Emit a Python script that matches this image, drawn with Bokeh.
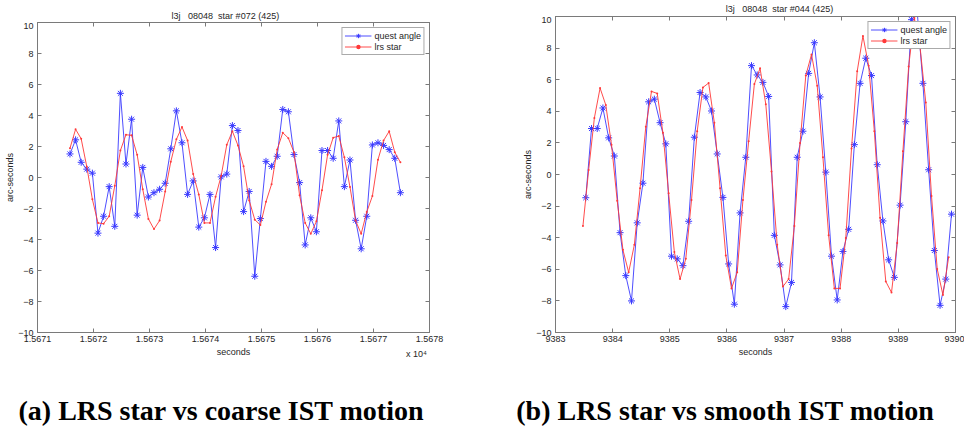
from bokeh.plotting import figure
from bokeh.layouts import row, column
from bokeh.models import LinearAxis, FixedTicker, Range1d
from bokeh.core.properties import value
from bokeh.embed import file_html
from bokeh.resources import INLINE

# ---------------- data: panel (a) ----------------
a_title = "l3j\u00a0\u00a0 08048\u00a0 star #072 (425)"
a_caption = "(a) LRS star vs coarse IST motion"
a_time = [15671.58, 15671.68, 15671.78, 15671.88, 15671.98, 15672.08, 15672.18, 15672.28, 15672.38, 15672.48,
          15672.58, 15672.68, 15672.78, 15672.88, 15672.98, 15673.08, 15673.18, 15673.28, 15673.38, 15673.48,
          15673.58, 15673.68, 15673.78, 15673.88, 15673.98, 15674.08, 15674.18, 15674.28, 15674.38, 15674.48,
          15674.58, 15674.68, 15674.78, 15674.88, 15674.98, 15675.08, 15675.18, 15675.28, 15675.38, 15675.48,
          15675.58, 15675.68, 15675.78, 15675.88, 15675.98, 15676.08, 15676.18, 15676.28, 15676.38, 15676.48,
          15676.58, 15676.68, 15676.78, 15676.88, 15676.98, 15677.08, 15677.18, 15677.28, 15677.38, 15677.48]
a_quest = [1.52, 2.43, 0.98, 0.54, 0.28, -3.59, -2.50, -0.59, -3.15, 5.43,
           0.87, 3.76, -2.43, 0.65, -1.26, -0.98, -0.76, -0.37, 1.85, 4.30,
           2.24, -1.09, -0.22, -3.20, -2.60, -1.09, -4.52, 0.04, 0.22, 3.35,
           3.03, -2.20, -0.90, -6.37, -2.65, 1.04, 0.72, 1.37, 4.39, 4.24,
           1.48, -0.33, -4.35, -2.60, -3.50, 1.74, 1.74, 1.24, 3.65, -0.59,
           1.13, -2.76, -4.60, -2.50, 2.10, 2.24, 2.07, 1.80, 1.24, -0.98]
a_lrs = [1.89, 3.11, 2.50, 0.70, -1.41, -2.93, -2.98, -2.50, -0.54, 1.74,
         2.76, 2.72, 1.46, -0.76, -2.67, -3.33, -2.78, -0.91, 1.02, 2.46,
         3.26, 2.39, 0.22, -1.09, -2.93, -2.93, -1.24, 0.11, 2.11, 2.98,
         2.07, 0.72, -1.48, -2.72, -3.07, -1.57, -0.43, 1.80, 2.89, 2.54,
         1.63, -1.15, -2.93, -3.63, -2.83, -0.83, 1.46, 2.57, 2.67, 1.30,
         -0.61, -2.78, -3.63, -2.22, -1.20, 1.15, 2.39, 2.98, 1.63, 0.98]
a_xticks = [15671, 15672, 15673, 15674, 15675, 15676, 15677, 15678]
a_xtick_labels = ["1.5671", "1.5672", "1.5673", "1.5674", "1.5675", "1.5676", "1.5677", "1.5678"]
a_multiplier = "x 10\u2074"

# ---------------- data: panel (b) ----------------
b_title = "l3j\u00a0\u00a0 08048\u00a0 star #044 (425)"
b_caption = "(b) LRS star vs smooth IST motion"
b_time_quest = [9383.53, 9383.63, 9383.73, 9383.83, 9383.93, 9384.03, 9384.13, 9384.23, 9384.33, 9384.43,
                9384.53, 9384.63, 9384.73, 9384.83, 9384.93, 9385.03, 9385.13, 9385.23, 9385.33, 9385.43,
                9385.53, 9385.63, 9385.73, 9385.83, 9385.93, 9386.03, 9386.13, 9386.23, 9386.33, 9386.43,
                9386.53, 9386.63, 9386.73, 9386.83, 9386.93, 9387.03, 9387.13, 9387.23, 9387.33, 9387.43,
                9387.53, 9387.63, 9387.73, 9387.83, 9387.93, 9388.03, 9388.13, 9388.23, 9388.33, 9388.43,
                9388.53, 9388.63, 9388.73, 9388.83, 9388.93, 9389.03, 9389.13, 9389.23, 9389.33, 9389.43,
                9389.53, 9389.63, 9389.73, 9389.83, 9389.93]
b_quest = [-1.47, 2.91, 2.91, 4.21, 2.32, 1.17, -3.68, -6.40, -8.00, -3.06,
           -0.55, 4.60, 4.77, 3.28, 1.94, -5.17, -5.34, -5.77, -2.96, 2.36,
           5.19, 4.91, 4.02, 1.30, -1.45, -5.66, -8.21, -2.43, 1.09, 6.89,
           6.30, 5.83, 4.94, -3.85, -5.72, -8.36, -6.83, 1.09, 2.74, 6.40,
           8.34, 4.91, 0.15, -5.17, -7.94, -4.87, -3.47, 1.89, 5.77, 7.36,
           6.26, 0.62, -2.94, -5.40, -6.51, -1.94, 3.34, 9.80, 10.30, 5.77,
           0.30, -4.81, -8.28, -6.62, -2.51]
b_time_lrs = [9383.48, 9383.58, 9383.68, 9383.78, 9383.88, 9383.98, 9384.08, 9384.18, 9384.28, 9384.38,
              9384.48, 9384.58, 9384.68, 9384.78, 9384.88, 9384.98, 9385.08, 9385.18, 9385.28, 9385.38,
              9385.48, 9385.58, 9385.68, 9385.78, 9385.88, 9385.98, 9386.08, 9386.18, 9386.28, 9386.38,
              9386.48, 9386.58, 9386.68, 9386.78, 9386.88, 9386.98, 9387.08, 9387.18, 9387.28, 9387.38,
              9387.48, 9387.58, 9387.68, 9387.78, 9387.88, 9387.98, 9388.08, 9388.18, 9388.28, 9388.38,
              9388.48, 9388.58, 9388.68, 9388.78, 9388.88, 9388.98, 9389.08, 9389.18, 9389.28, 9389.38,
              9389.48, 9389.58, 9389.68, 9389.78, 9389.88]
b_lrs = [-3.26, 0.28, 3.57, 5.47, 4.40, 1.89, -1.66, -4.77, -6.19, -4.45,
         -0.87, 3.02, 5.26, 5.13, 2.64, -1.19, -4.91, -6.62, -5.34, -1.62,
         2.74, 5.51, 5.79, 3.28, -0.87, -5.13, -7.21, -6.19, -1.62, 2.10,
         5.72, 6.72, 4.45, 0.19, -4.45, -7.09, -6.62, -3.26, 2.00, 6.26,
         7.60, 5.62, 1.09, -3.85, -7.21, -7.21, -4.02, 1.64, 6.53, 8.77,
         6.89, 2.74, -2.74, -6.77, -7.47, -4.34, 1.47, 6.83, 9.90, 8.06,
         4.55, -1.36, -5.98, -7.62, -5.23]
b_xticks = [9383, 9384, 9385, 9386, 9387, 9388, 9389, 9390]
b_xtick_labels = ["9383", "9384", "9385", "9386", "9387", "9388", "9389", "9390"]

y_ticks = [-10, -8, -6, -4, -2, 0, 2, 4, 6, 8, 10]
y_range = (-10, 10)
series_names = ["quest angle", "lrs star"]
x_label = "seconds"
y_label = "arc-seconds"

# ---------------- styles ----------------
FONT = "Liberation Sans"
SERIF = "Liberation Serif"
BOX = "#7a7a7a"
TXT = "#262626"
BLUE = "#3a3aff"
RED = "#ff3838"
FS = "9px"
W = 964
HALF = 482


def style_axis(ax, label_size=FS):
    ax.axis_line_color = BOX
    ax.major_tick_line_color = BOX
    ax.minor_tick_line_color = None
    ax.major_tick_in = 4
    ax.major_tick_out = 0
    ax.major_label_text_font = FONT
    ax.major_label_text_font_size = label_size
    ax.major_label_text_color = TXT
    ax.axis_label_text_font = FONT
    ax.axis_label_text_font_size = FS
    ax.axis_label_text_font_style = "normal"
    ax.axis_label_text_color = TXT


def make_panel(tq, q, tl, l, xr, xticks, xlabels, w, h, left, right, top, bottom):
    p = figure(width=w, height=h, title=None,
               x_range=Range1d(*xr), y_range=Range1d(*y_range),
               output_backend="svg", toolbar_location=None,
               min_border_left=left, min_border_right=right,
               min_border_top=top, min_border_bottom=bottom)
    p.background_fill_color = "white"
    p.border_fill_color = "white"
    p.outline_line_color = BOX
    p.grid.visible = False

    xa = p.below[0]
    ya = p.left[0]
    xa.ticker = FixedTicker(ticks=xticks)
    xa.major_label_overrides = {t: s for t, s in zip(xticks, xlabels)}
    ya.ticker = FixedTicker(ticks=y_ticks)
    style_axis(xa)
    style_axis(ya)
    ya.axis_label = y_label
    xa.major_label_standoff = 3
    ya.major_label_standoff = 4
    ya.axis_label_standoff = 0

    top_ax = LinearAxis(ticker=FixedTicker(ticks=xticks))
    right_ax = LinearAxis(ticker=FixedTicker(ticks=y_ticks))
    for ax in (top_ax, right_ax):
        style_axis(ax, label_size="1px")
        ax.major_label_text_color = None
        ax.major_label_standoff = 0
    p.add_layout(top_ax, "above")
    p.add_layout(right_ax, "right")

    p.line(tq, q, line_color=BLUE, line_width=0.9, legend_label=series_names[0])
    p.scatter(tq, q, marker="asterisk", size=7, line_color=BLUE, line_width=1,
              legend_label=series_names[0])
    p.line(tl, l, line_color=RED, line_width=0.9, legend_label=series_names[1])
    p.scatter(tl, l, marker="circle", size=2, line_color=None, fill_color=RED,
              legend_label=series_names[1])

    lg = p.legend[0]
    lg.location = "top_right"
    lg.margin = 5
    lg.padding = 2
    lg.spacing = 0
    lg.label_height = 11
    lg.glyph_height = 11
    lg.glyph_width = 27
    lg.label_standoff = 3
    lg.label_text_font = FONT
    lg.label_text_font_size = FS
    lg.label_text_color = TXT
    lg.border_line_color = "#555555"
    lg.border_line_width = 1
    lg.background_fill_color = "white"
    lg.background_fill_alpha = 1
    return p


def text_strip(w, h, x0, y0, xs, ys, texts, font, size, style, color):
    """A strip whose frame is the whole strip; x, y are page pixels (y runs downward)."""
    s = figure(width=w, height=h, title=None, x_axis_type=None, y_axis_type=None,
               x_range=Range1d(x0, x0 + w), y_range=Range1d(y0 + h, y0),
               output_backend="svg", toolbar_location=None, min_border=0)
    s.outline_line_color = None
    s.grid.visible = False
    s.background_fill_color = "white"
    s.border_fill_color = "white"
    for idx in range(len(texts)):
        s.text(x=[xs[idx]], y=[ys[idx]], text=[texts[idx]], text_font=value(font[idx]),
               text_font_size=value(size[idx]), text_font_style=style[idx],
               text_color=color[idx], text_align="center", text_baseline="middle")
    return s


# panel (a): title strip, plot frame 24..332
top_a = text_strip(HALF, 22, 0, 0, [231], [15], [a_title], [FONT], [FS], ["normal"], [TXT])
pa = make_panel(a_time, a_quest, a_time, a_lrs,
                (a_xticks[0], a_xticks[-1]), a_xticks, a_xtick_labels,
                HALF, 324, 37, 53, 0, 14)
# panel (b): title strip, plot frame 18..332
top_b = text_strip(HALF, 16, HALF, 0, [752], [8], [b_title], [FONT], [FS], ["normal"], [TXT])
pb = make_panel(b_time_quest, b_quest, b_time_lrs, b_lrs,
                (b_xticks[0], b_xticks[-1]), b_xticks, b_xtick_labels,
                HALF, 330, 73, 9, 0, 14)

# bottom strip: x-axis labels, multiplier, captions
bottom = text_strip(W, 91, 0, 346,
                    [233, 755, 416, 221, 725], [351, 351, 353, 410, 410],
                    [x_label, x_label, a_multiplier, a_caption, b_caption],
                    [FONT, FONT, FONT, SERIF, SERIF],
                    [FS, FS, FS, "28px", "28px"],
                    ["normal", "normal", "normal", "bold", "bold"],
                    [TXT, TXT, TXT, "black", "black"])

layout = column(row(column(top_a, pa), column(top_b, pb)), bottom)
open("out.html", "w").write(file_html(layout, INLINE))
